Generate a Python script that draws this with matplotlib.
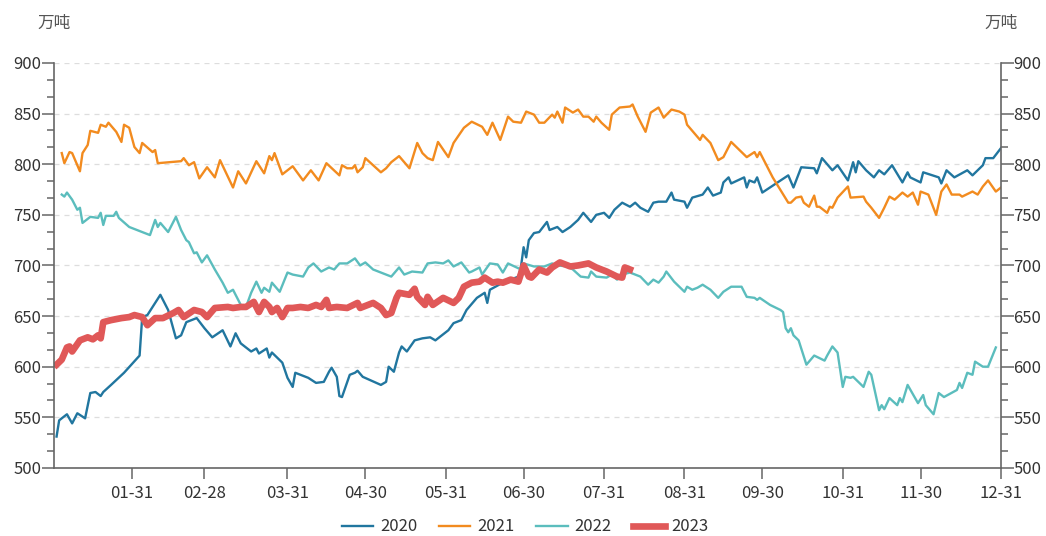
import numpy as np
import matplotlib
matplotlib.use("Agg")
from matplotlib import pyplot as plt
from matplotlib.ticker import MultipleLocator, FixedLocator

plt.rcParams['font.family'] = ['Noto Sans CJK SC', 'DejaVu Sans']

# x = day of year (0 = Jan 1), y = 万吨
tick_days = [30, 58, 90, 120, 151, 181, 212, 243, 273, 304, 334, 365]
tick_labels = ['01-31', '02-28', '03-31', '04-30', '05-31', '06-30',
               '07-31', '08-31', '09-30', '10-31', '11-30', '12-31']

d2020 = [1, 2, 5, 7, 9, 12, 14, 16, 18, 19,
         22, 27, 33, 34, 36, 41, 44, 47, 49, 51,
         55, 58, 61, 65, 68, 70, 72, 76, 78, 79,
         82, 83, 84, 88, 90, 92, 93, 98, 101, 104,
         106, 107, 109, 110, 111, 114, 116, 117, 119, 126,
         128, 129, 131, 133, 134, 136, 139, 142, 145, 147,
         152, 154, 157, 159, 163, 166, 167, 168, 173, 176,
         179, 180, 181, 182, 183, 185, 187, 190, 191, 194,
         196, 199, 202, 204, 207, 209, 212, 214, 216, 219,
         222, 224, 226, 229, 231, 233, 236, 238, 239, 243,
         244, 246, 250, 252, 254, 257, 258, 260, 261, 266,
         267, 268, 270, 271, 273, 283, 285, 288, 293, 294,
         296, 299, 300, 302, 306, 308, 309, 310, 313, 316,
         318, 320, 323, 327, 329, 330, 334, 335, 341, 342,
         344, 347, 352, 354, 358, 359, 362, 365]
v2020 = [531, 547, 553, 544, 554, 549, 574, 575, 571, 575,
         582, 594, 611, 649, 651, 671, 656, 628, 631, 644,
         648, 638, 629, 636, 620, 633, 623, 615, 618, 613,
         618, 609, 614, 604, 589, 580, 594, 589, 584, 585,
         595, 599, 590, 571, 570, 592, 594, 596, 590, 582,
         585, 600, 595, 614, 620, 615, 626, 628, 629, 626,
         636, 643, 646, 656, 668, 673, 663, 676, 683, 686,
         689, 699, 718, 708, 725, 732, 733, 743, 735, 738,
         733, 738, 745, 752, 743, 750, 752, 747, 755, 762,
         758, 762, 757, 753, 762, 763, 763, 772, 765, 763,
         757, 767, 770, 777, 769, 772, 782, 787, 781, 787,
         777, 784, 782, 787, 772, 789, 777, 797, 796, 791,
         806, 797, 794, 799, 784, 802, 792, 803, 794, 787,
         794, 790, 799, 782, 792, 787, 782, 792, 787, 781,
         794, 787, 794, 789, 799, 806, 806, 816]

d2021 = [3, 4, 6, 7, 10, 11, 13, 14, 17, 18,
         20, 21, 24, 26, 27, 29, 31, 33, 34, 38,
         39, 40, 49, 50, 52, 54, 56, 59, 62, 64,
         69, 71, 74, 78, 81, 83, 84, 85, 88, 92,
         96, 99, 102, 105, 110, 111, 113, 115, 116, 117,
         119, 120, 126, 128, 130, 133, 137, 140, 142, 144,
         146, 148, 152, 154, 158, 161, 165, 167, 169, 172,
         175, 177, 180, 182, 185, 187, 189, 192, 193, 194,
         196, 197, 200, 202, 204, 206, 208, 209, 211, 214,
         215, 218, 222, 223, 225, 228, 230, 233, 235, 238,
         241, 243, 244, 249, 250, 253, 256, 258, 261, 267,
         270, 271, 272, 277, 283, 284, 286, 288, 289, 291,
         293, 294, 295, 298, 299, 300, 302, 306, 307, 312,
         313, 315, 318, 320, 322, 324, 327, 329, 331, 333,
         334, 337, 340, 342, 344, 346, 349, 350, 354, 356,
         358, 360, 363, 365]
v2021 = [811, 801, 812, 811, 793, 811, 819, 833, 831, 839,
         837, 841, 832, 822, 839, 836, 817, 811, 821, 812,
         814, 801, 803, 806, 799, 802, 786, 797, 787, 804,
         777, 793, 781, 803, 791, 808, 804, 811, 790, 798,
         784, 794, 784, 801, 789, 799, 796, 796, 799, 792,
         797, 806, 792, 796, 802, 808, 796, 821, 811, 806,
         804, 822, 807, 821, 836, 842, 837, 829, 841, 824,
         847, 842, 841, 852, 849, 841, 841, 849, 846, 852,
         841, 856, 851, 854, 847, 847, 842, 847, 841, 834,
         849, 856, 857, 859, 847, 832, 851, 856, 846, 854,
         852, 849, 839, 824, 829, 821, 804, 807, 822, 807,
         812, 807, 812, 787, 762, 762, 767, 768, 762, 758,
         769, 758, 758, 752, 758, 757, 767, 778, 767, 768,
         763, 757, 747, 757, 768, 765, 772, 768, 772, 760,
         773, 770, 750, 773, 780, 770, 770, 768, 773, 770,
         778, 784, 773, 777]

d2022 = [3, 4, 5, 7, 9, 10, 11, 14, 17, 18,
         19, 20, 23, 24, 25, 29, 37, 39, 40, 41,
         44, 47, 49, 51, 52, 54, 55, 57, 59, 62,
         65, 67, 69, 72, 74, 76, 78, 80, 81, 83,
         84, 87, 90, 92, 96, 98, 100, 103, 106, 108,
         110, 113, 116, 118, 120, 123, 126, 130, 133, 135,
         138, 142, 144, 147, 150, 152, 154, 157, 160, 161,
         164, 165, 168, 171, 173, 175, 180, 181, 185, 189,
         192, 194, 198, 200, 203, 206, 207, 209, 213, 215,
         217, 219, 222, 226, 229, 231, 233, 235, 236, 239,
         241, 243, 244, 246, 248, 250, 253, 256, 258, 261,
         265, 267, 270, 271, 272, 276, 280, 281, 282, 283,
         284, 285, 287, 290, 293, 297, 298, 300, 302, 304,
         305, 307, 308, 312, 314, 315, 318, 319, 320, 322,
         325, 326, 327, 329, 333, 335, 336, 339, 341, 343,
         348, 349, 350, 352, 354, 355, 358, 360, 363]
v2022 = [770, 768, 772, 765, 755, 757, 742, 748, 747, 752,
         740, 749, 749, 753, 747, 738, 730, 745, 738, 742,
         733, 748, 735, 725, 723, 712, 713, 703, 710, 696,
         683, 673, 676, 661, 659, 673, 684, 673, 678, 674,
         683, 674, 693, 691, 689, 698, 702, 694, 698, 696,
         702, 702, 707, 700, 703, 696, 693, 689, 698, 691,
         694, 693, 702, 703, 702, 705, 699, 703, 693, 694,
         698, 691, 702, 701, 693, 702, 696, 702, 699, 699,
         702, 700, 699, 696, 689, 688, 694, 689, 688, 691,
         686, 691, 693, 689, 681, 686, 683, 689, 694, 684,
         679, 674, 679, 676, 678, 681, 676, 668, 674, 679,
         679, 669, 668, 666, 668, 661, 656, 654, 638, 634,
         638, 631, 626, 602, 611, 606, 611, 620, 614, 580,
         590, 589, 590, 580, 595, 592, 557, 562, 558, 569,
         562, 569, 565, 582, 564, 572, 562, 553, 574, 570,
         577, 584, 579, 594, 592, 605, 600, 600, 619]

d2023 = [1, 3, 5, 6, 7, 10, 13, 15, 17, 18,
         19, 22, 26, 29, 31, 34, 36, 39, 42, 46,
         48, 50, 54, 57, 59, 62, 67, 69, 72, 74,
         77, 79, 81, 83, 84, 86, 88, 90, 92, 95,
         98, 101, 103, 105, 106, 109, 113, 117, 118, 123,
         126, 128, 130, 132, 133, 137, 139, 140, 143, 144,
         146, 150, 154, 156, 158, 161, 164, 166, 169, 171,
         173, 176, 179, 181, 183, 184, 187, 190, 192, 195,
         199, 202, 206, 209, 213, 217, 219, 220, 222]
v2023 = [602, 607, 619, 620, 615, 626, 629, 627, 631, 628,
         644, 646, 648, 649, 651, 649, 641, 648, 648, 653,
         656, 649, 656, 654, 649, 658, 659, 658, 659, 659,
         664, 654, 664, 659, 654, 658, 649, 658, 658, 659,
         658, 661, 659, 666, 658, 659, 658, 663, 658, 663,
         658, 651, 653, 668, 673, 671, 677, 669, 661, 669,
         661, 668, 663, 668, 679, 683, 684, 688, 683, 684,
         683, 686, 684, 700, 689, 688, 696, 693, 698, 703,
         699, 700, 702, 698, 694, 689, 688, 698, 696]

fig = plt.figure(figsize=(10.46, 5.36), dpi=100)
ax = fig.add_axes([0.0516, 0.127, 0.9054, 0.7555])

ax.plot(d2020, v2020, color='#21769f', lw=1.7, label='2020')
ax.plot(d2021, v2021, color='#f28b1f', lw=1.7, label='2021')
ax.plot(d2022, v2022, color='#5bbdbd', lw=1.7, label='2022')
ax.plot(d2023, v2023, color='#e05858', lw=4.8, label='2023', solid_joinstyle='round')

ax.set_xlim(0, 365)
ax.set_ylim(500, 900)
ax.xaxis.set_major_locator(FixedLocator(tick_days))
ax.set_xticklabels(tick_labels)
ax.yaxis.set_major_locator(MultipleLocator(50))
ax.yaxis.set_minor_locator(MultipleLocator(50 / 3))

ax.grid(axis='y', which='major', ls=(0, (4, 4)), color='#dddddd', lw=0.9)
ax.set_axisbelow(True)

ax.spines['top'].set_visible(False)
for s in ['left', 'right', 'bottom']:
    ax.spines[s].set_color('#666666')
    ax.spines[s].set_linewidth(1.2)

ax.tick_params(axis='y', which='major', length=9, width=1.1, color='#666666',
               labelsize=12, labelcolor='#333333', pad=0,
               left=True, right=True, labelleft=True, labelright=True)
ax.tick_params(axis='y', which='minor', length=5, width=1.1, color='#666666',
               left=True, right=True)
ax.tick_params(axis='x', which='major', length=8, width=1.1, color='#666666',
               labelsize=12, labelcolor='#333333', pad=4)

fig.text(0.036, 0.956, '万吨', fontsize=12, color='#555555', ha='left', va='center')
fig.text(0.941, 0.956, '万吨', fontsize=12, color='#555555', ha='left', va='center')

fig.legend(loc='center', bbox_to_anchor=(0.502, 0.017), ncol=4, frameon=False,
           fontsize=12, handlelength=1.9, handletextpad=0.4, columnspacing=1.3,
           labelcolor='#333333')

fig.savefig('out.png', dpi=100)
